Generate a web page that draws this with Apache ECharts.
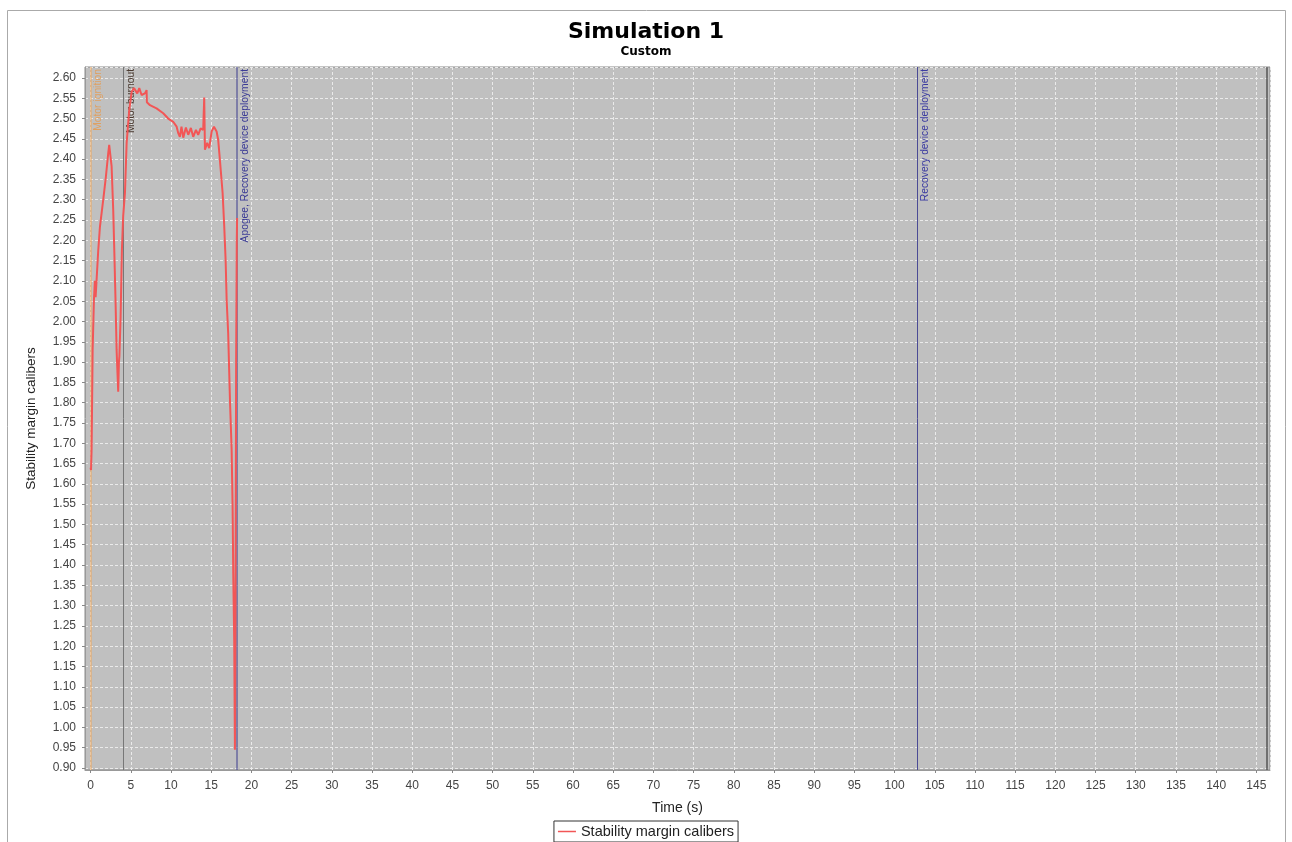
<!DOCTYPE html>
<html>
<head>
<meta charset="utf-8">
<script src="https://cdn.jsdelivr.net/npm/echarts@6/dist/echarts.min.js"></script>
<style>html,body{margin:0;padding:0;background:#fff;}#chart{width:1292px;height:842px;}</style>
</head>
<body>
<div id="chart"></div>
<script>
// ---- data ----
const timeS = [0.00,0.05,0.12,0.25,0.41,0.53,0.62,0.72,0.95,1.16,1.57,1.90,2.19,2.31,2.61,2.81,2.95,3.10,3.23,3.43,3.52,3.58,3.73,3.89,4.05,4.27,4.48,4.80,5.10,5.39,5.50,5.80,6.05,6.34,6.75,6.96,7.00,7.38,8.20,9.03,9.65,10.27,10.70,10.90,11.10,11.30,11.52,11.85,12.14,12.47,12.76,13.10,13.38,13.68,14.00,14.13,14.22,14.50,14.75,15.05,15.34,15.67,15.87,16.08,16.42,16.62,16.79,16.92,17.11,17.33,17.54,17.66,17.74,17.86,17.95,18.02,18.10,18.18,18.22];
const stability = [1.640,1.634,1.684,1.930,2.053,2.100,2.060,2.095,2.176,2.234,2.300,2.357,2.415,2.435,2.382,2.275,2.170,2.050,1.930,1.827,1.900,1.915,2.012,2.176,2.260,2.317,2.440,2.520,2.566,2.575,2.579,2.562,2.575,2.558,2.562,2.570,2.540,2.533,2.525,2.513,2.500,2.492,2.480,2.464,2.455,2.480,2.453,2.478,2.460,2.477,2.455,2.472,2.460,2.476,2.472,2.552,2.423,2.440,2.427,2.468,2.480,2.468,2.447,2.398,2.316,2.234,2.152,2.053,1.971,1.807,1.684,1.544,1.380,1.216,0.945,1.300,1.900,2.200,2.255];
const eventTimes = [0.0, 4.0, 18.22, 102.8, 146.3];
const eventNames = ['Motor ignition', 'Motor burnout', 'Apogee, Recovery device deployment', 'Recovery device deployment', ''];
const seriesName = 'Stability margin calibers';
const chartTitle = 'Simulation 1';
const chartSubtitle = 'Custom';
const xAxisName = 'Time (s)';
const yAxisName = 'Stability margin calibers';

// ---- styles ----
const eventLineColors = ['rgba(235,170,100,0.55)', '#777777', 'rgba(80,80,150,0.75)', '#4b4b95', '#555555'];
const eventLabelColors = ['#e0a060', '#4a3a30', '#3a3a95', '#3a3aa0', '#555555'];
const eventLineWidths = [2, 1, 1.6, 1, 1.5];
const FONT = "'Liberation Sans', Arial, sans-serif";

const points = timeS.map((t, i) => [t, stability[i]]);
const markData = eventTimes.map((t, i) => ({
  xAxis: t,
  name: eventNames[i],
  lineStyle: { color: eventLineColors[i], width: eventLineWidths[i], type: 'solid' },
  label: {
    show: eventNames[i] !== '',
    formatter: eventNames[i],
    position: 'insideEndBottom',
    distance: [2, 3],
    color: eventLabelColors[i],
    fontSize: 10.3,
    fontFamily: FONT
  }
}));

const chart = echarts.init(document.getElementById('chart'), null, { renderer: 'canvas' });
chart.setOption({
  backgroundColor: '#ffffff',
  animation: false,
  graphic: [{
    type: 'rect', z: -10, silent: true,
    shape: { x: 7.5, y: 10.5, width: 1278, height: 840 },
    style: { fill: '#ffffff', stroke: '#aaaaaa', lineWidth: 1 }
  }],
  title: {
    text: chartTitle,
    subtext: chartSubtitle,
    left: 'center',
    top: 16,
    itemGap: 3,
    textStyle: { fontFamily: "'DejaVu Sans', sans-serif", fontWeight: 'bold', fontSize: 22, color: '#000' },
    subtextStyle: { fontFamily: "'DejaVu Sans', sans-serif", fontWeight: 'bold', fontSize: 12, color: '#000' }
  },
  legend: {
    data: [{ name: seriesName, icon: 'rect' }],
    left: 'center',
    top: 821,
    borderColor: '#333',
    borderWidth: 1,
    borderRadius: 0,
    padding: [3, 4, 3, 4],
    itemWidth: 18,
    itemHeight: 1.5,
    itemGap: 4,
    textStyle: { fontFamily: FONT, fontSize: 14.5, color: '#222' }
  },
  grid: {
    left: 85, top: 67, width: 1185, height: 703,
    show: true, backgroundColor: '#c0c0c0', borderColor: '#8a8a8a', borderWidth: 1,
    containLabel: false
  },
  xAxis: {
    type: 'value',
    min: -0.7, max: 146.7,
    minInterval: 5, maxInterval: 5, splitNumber: 30,
    name: xAxisName, nameLocation: 'middle', nameGap: 31,
    nameTextStyle: { fontFamily: FONT, fontSize: 14, color: '#222' },
    axisLine: { show: true, onZero: false, lineStyle: { color: '#999' } },
    axisTick: { show: true, length: 3, lineStyle: { color: '#888' } },
    axisLabel: { showMinLabel: false, showMaxLabel: false, margin: 10, fontFamily: FONT, fontSize: 12, color: '#444' },
    splitLine: { show: true, lineStyle: { color: '#eaeaea', type: [3, 2], width: 1 } }
  },
  yAxis: {
    type: 'value',
    min: 0.895, max: 2.627,
    minInterval: 0.05, maxInterval: 0.05, splitNumber: 35,
    name: yAxisName, nameLocation: 'middle', nameGap: 47,
    nameTextStyle: { fontFamily: FONT, fontSize: 13.5, color: '#222' },
    axisLine: { show: true, onZero: false, lineStyle: { color: '#999' } },
    axisTick: { show: true, length: 3, lineStyle: { color: '#888' } },
    axisLabel: { showMinLabel: false, showMaxLabel: false, margin: 9, fontFamily: FONT, fontSize: 12, color: '#444',
      formatter: v => v.toFixed(2) },
    splitLine: { show: true, lineStyle: { color: '#eaeaea', type: [3, 2], width: 1 } }
  },
  series: [{
    name: seriesName,
    type: 'line',
    data: points,
    symbol: 'none',
    lineStyle: { color: '#f25656', width: 2 },
    itemStyle: { color: '#f25656' },
    clip: true,
    z: 3,
    markLine: {
      silent: true,
      symbol: ['none', 'none'],
      animation: false,
      z: 2,
      data: markData
    }
  }]
});
</script>
</body>
</html>
